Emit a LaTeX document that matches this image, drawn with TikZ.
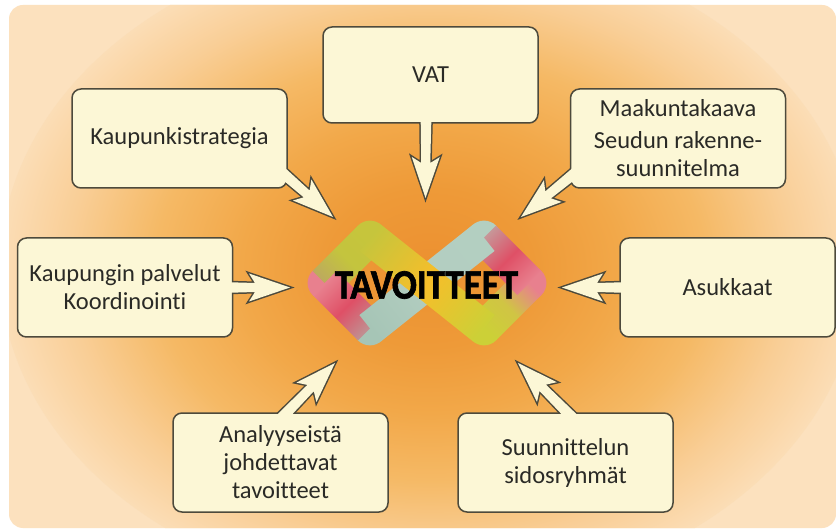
\documentclass[tikz,border=0pt]{standalone}
\usepackage{fontspec}
\setmainfont{Carlito}[Ligatures=NoCommon]
\newfontfamily\goalfont{Carlito Bold}[FakeBold=1.6]
\usepackage{graphicx}
\usetikzlibrary{calc}
\definecolor{boxfill}{HTML}{FCF7D6}
\definecolor{boxline}{HTML}{4D4A3C}
\definecolor{txt}{HTML}{2A2A26}
\definecolor{g0}{HTML}{EC9030}
\definecolor{g1}{HTML}{EE9A38}
\definecolor{g2}{HTML}{F2A849}
\definecolor{g3}{HTML}{F5B965}
\definecolor{g4}{HTML}{F9CE96}
\definecolor{g5}{HTML}{FCE1BE}
\definecolor{cTeal}{HTML}{A6C5B6}
\definecolor{cTealB}{HTML}{B3CFC1}
\definecolor{cRed}{HTML}{DF5066}
\definecolor{cPink}{HTML}{E8808E}
\definecolor{cYG}{HTML}{C6C53C}
\definecolor{cGreen}{HTML}{AEB84E}
\definecolor{cYel}{HTML}{F6BE2A}
\definecolor{cYGB}{HTML}{CCD037}
\pgfdeclareradialshading{glow}{\pgfpointorigin}{color(0bp)=(g0); color(6bp)=(g1); color(11bp)=(g2); color(16bp)=(g3); color(21bp)=(g4); color(26bp)=(g5); color(50bp)=(g5)}
\pgfdeclarelayer{bg}
\pgfdeclarelayer{arrbg}
\pgfdeclarelayer{fg}
\pgfsetlayers{bg,arrbg,main,fg}
\newcommand{\callout}[3]{%
  \path[#1] ($($(#2)!-12pt!(#3)$)!5.5pt!90:(#3)$) -- ($($(#3)!35pt!(#2)$)!4.5pt!90:(#3)$) -- ($($(#3)!41pt!(#2)$)!14pt!90:(#3)$) -- (#3) -- ($($(#3)!41pt!(#2)$)!14pt!-90:(#3)$) -- ($($(#3)!35pt!(#2)$)!4.5pt!-90:(#3)$) -- ($($(#2)!-12pt!(#3)$)!5.5pt!-90:(#3)$) -- cycle;}
\newcommand{\ribbon}[7]{%
  \shade[transform canvas={shift={(#1pt,#2pt)},rotate=#3}, left color=#5, right color=#7, middle color=#6] (0,-17) rectangle (#4,17);}
\begin{document}
\begin{tikzpicture}[x=1pt,y=1pt,
  box/.style={draw=boxline, fill=boxfill, line width=1.5pt, rounded corners=9pt,
    minimum width=215pt, minimum height=99pt, inner sep=0pt, align=center,
    text=txt, font=\fontsize{24.5}{28}\selectfont},
  arrline/.style={draw=boxline, line width=3pt, line join=miter},
  arrfill/.style={fill=boxfill}]
\useasboundingbox (0,0) rectangle (837,530);
\begin{pgfonlayer}{bg}
  \fill[white] (0,0) rectangle (837,530);
  \begin{scope}
    \clip[rounded corners=14pt] (9,2) rectangle (836,525);
    \fill[g5] (0,0) rectangle (837,530);
    \shade[shading=glow] (430,262) ellipse (430 and 330);
  \end{scope}
\end{pgfonlayer}

% boxes
\node[box, minimum height=96pt] (vat) at (430.5,455) {VAT};
\node[box] (kaup) at (179.5,391.5) {Kaupunkistrategia};
\node[box] (maak) at (678,391.5) {Maakuntakaava\\[4pt]Seudun rakenne-\\suunnitelma};
\node[box] (koord) at (125,242.5) {Kaupungin palvelut\\Koordinointi};
\node[box] (asuk) at (727.5,242.5) {Asukkaat};
\node[box] (anal) at (280.5,67.5) {Analyyseistä\\johdettavat\\tavoitteet};
\node[box] (suun) at (565.5,67.5) {Suunnittelun\\sidosryhmät};

% logo
\fill[cPink] (324.6,247) circle (17);
\fill[cPink] (529.4,247) circle (17);
\fill[cYG] (370,292.4) circle (17);
\fill[cTeal] (370,201.6) circle (17);
\fill[cTealB] (484,292.4) circle (17);
\fill[cYGB] (484,201.6) circle (17);
\ribbon{324.6}{247}{45}{64.2}{cGreen!75!cPink}{cYG!90!cGreen}{cYG}
\ribbon{370}{201.6}{135}{64.2}{cRed!45!cTeal}{cRed}{cPink}
\ribbon{484}{201.6}{45}{64.2}{cYGB}{cYGB!85!cPink}{cPink}
\ribbon{529.4}{247}{135}{64.2}{cPink}{cRed}{cRed!45!cTealB}
\ribbon{370}{201.6}{38.54}{145.7}{cTeal}{cTeal!85!white}{cTealB}
\ribbon{370}{292.4}{-38.54}{145.7}{cYG}{cYel}{cYGB}
\node[text=black, font=\goalfont\fontsize{42}{42}\selectfont] (goal) at (426.5,245) {\scalebox{0.88}[1]{TAVOITTEET}};

% connector ends
\coordinate (bVat) at ($(vat.south)+(-4.5,0)$);
\coordinate (tVat) at (425.5,332);
\coordinate (bKaup) at ($(kaup.south east)+(-3,14)$);
\coordinate (tKaup) at (333,313);
\coordinate (bMaak) at ($(maak.south west)+(3,14)$);
\coordinate (tMaak) at (521,313);
\coordinate (bAsuk) at (asuk.west);
\coordinate (tAsuk) at (562,242.5);
\coordinate (bKoord) at (koord.east);
\coordinate (tKoord) at (290,242.5);
\coordinate (bAnal) at ($(anal.north)+(6.5,0)$);
\coordinate (tAnal) at (335,167);
\coordinate (bSuun) at ($(suun.north)+(1.5,0)$);
\coordinate (tSuun) at (518,167);

\begin{pgfonlayer}{arrbg}
  \foreach \b/\t in {bVat/tVat,bKaup/tKaup,bMaak/tMaak,bAsuk/tAsuk,bKoord/tKoord,bAnal/tAnal,bSuun/tSuun}
    {\callout{arrline}{\b}{\t}}
\end{pgfonlayer}
\begin{pgfonlayer}{fg}
  \foreach \b/\t in {bVat/tVat,bKaup/tKaup,bMaak/tMaak,bAsuk/tAsuk,bKoord/tKoord,bAnal/tAnal,bSuun/tSuun}
    {\callout{arrfill}{\b}{\t}}
\end{pgfonlayer}
\end{tikzpicture}
\end{document}
